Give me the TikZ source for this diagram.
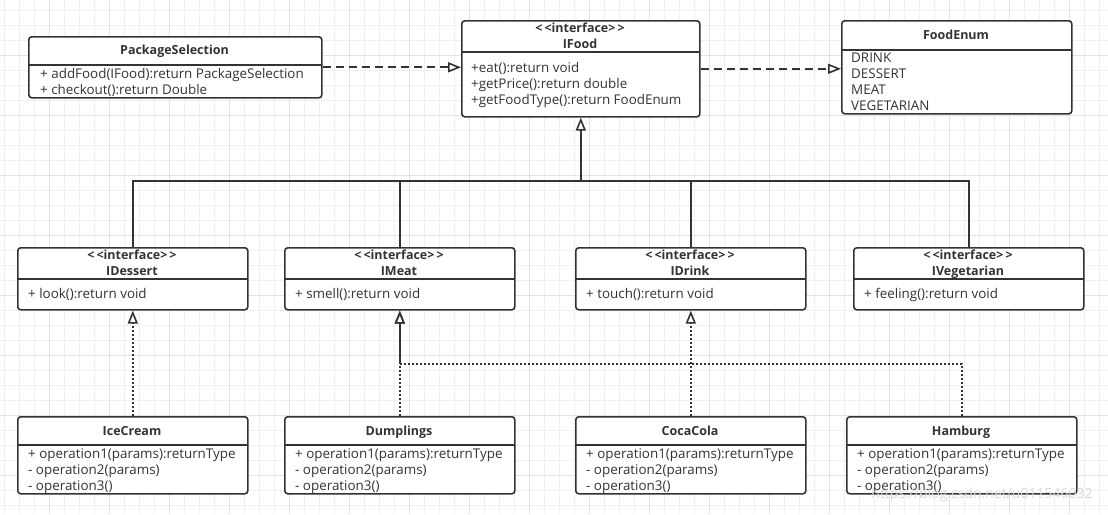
\documentclass[tikz,border=0pt]{standalone}
\usepackage{fontspec}
\setmainfont{Open Sans}
\usetikzlibrary{arrows.meta,positioning}
\definecolor{ink}{HTML}{333333}
\definecolor{gridminor}{HTML}{F0F0F0}
\definecolor{gridmajor}{HTML}{E2E2E2}
\tikzset{
	umlbox/.style={draw=ink, line width=1.6pt, rounded corners=3pt, fill=white, anchor=north west, inner sep=0pt},
	divider/.style={draw=ink, line width=1.6pt},
	classname/.style={font=\fontsize{12.5}{16}\selectfont\bfseries, text=ink, inner sep=0pt, anchor=base},
	member/.style={font=\fontsize{13.4}{16}\selectfont, text=ink, inner sep=0pt, anchor=base west},
	opentip/.style={-{Triangle[open,length=13pt,width=10pt,line width=1.6pt]}},
	depend/.style={draw=ink, line width=1.8pt, dash pattern=on 8pt off 5pt, opentip},
	realize/.style={draw=ink, line width=1.6pt, dash pattern=on 2pt off 2pt, opentip},
	inherit/.style={draw=ink, line width=1.6pt},
}
\newcommand{\stereo}{<\kern2pt<interface>\kern2pt>}
\begin{document}
\begin{tikzpicture}[x=1pt,y=-1pt]
		\useasboundingbox (0,0) rectangle (1108,514);
		% background grid
		\fill[white] (0,0) rectangle (1108,514);
		\foreach \gx in {4.3,19.3,...,1108} \draw[gridminor, line width=1pt] (\gx,0) -- (\gx,514);
		\foreach \gy in {10,25,...,514} \draw[gridminor, line width=1pt] (0,\gy) -- (1108,\gy);
		\foreach \gx in {49.3,109.3,...,1108} \draw[gridmajor, line width=1pt] (\gx,0) -- (\gx,514);
		\foreach \gy in {55,115,...,514} \draw[gridmajor, line width=1pt] (0,\gy) -- (1108,\gy);

		% top row
		\node[umlbox, minimum width=293, minimum height=61] (pkg) at (28,36) {};
		\draw[divider] (28,65) -- (321,65);
		\node[classname] (pkg-name) at (174.5,54.5) {PackageSelection};
		\node[member] (pkg-m1) at (40,78.5) {+ addFood(IFood):return PackageSelection};
		\node[member] (pkg-m2) at (40,94.5) {+ checkout():return Double};

		\node[umlbox, minimum width=238, minimum height=96] (ifood) at (461,20) {};
		\draw[divider] (461,52) -- (699,52);
		\node[classname] (ifood-st) at (580,32.5) {\stereo};
		\node[classname] (ifood-name) at (580,48.5) {IFood};
		\node[member] (ifood-m1) at (471,72.5) {+eat():return void};
		\node[member] (ifood-m2) at (471,88.5) {+getPrice():return double};
		\node[member] (ifood-m3) at (471,104.5) {+getFoodType():return FoodEnum};

		\node[umlbox, minimum width=230, minimum height=93] (foodenum) at (841,20) {};
		\draw[divider] (841,50) -- (1071,50);
		\node[classname] (foodenum-name) at (956,39.5) {FoodEnum};
		\foreach \item [count=\i] in {DRINK,DESSERT,MEAT,VEGETARIAN}
			\node[member] (foodenum-\i) at (851,{46.5+16*\i}) {\item};

		% interfaces
		\foreach \nm/\lx/\title/\meth in {idessert/17/IDessert/{+ look():return void},
				imeat/284/IMeat/{+ smell():return void},
				idrink/575/IDrink/{+ touch():return void},
				iveg/853/IVegetarian/{+ feeling():return void}}{
			\node[umlbox, minimum width=230, minimum height=62] (\nm) at (\lx,247) {};
			\draw[divider] (\lx,279) -- ({\lx+230},279);
			\node[classname] (\nm-st) at ({\lx+115},259.5) {\stereo};
			\node[classname] (\nm-name) at ({\lx+115},275.5) {\title};
			\node[member] (\nm-m1) at ({\lx+11},298.5) {\meth};
		}

		% classes
		\foreach \nm/\lx/\title in {icecream/17/IceCream, dumplings/284/Dumplings,
				cocacola/575/CocaCola, hamburg/846/Hamburg}{
			\node[umlbox, minimum width=230, minimum height=77] (\nm) at (\lx,416) {};
			\draw[divider] (\lx,445) -- ({\lx+230},445);
			\node[classname] (\nm-name) at ({\lx+115},435.5) {\title};
			\node[member] (\nm-m1) at ({\lx+11},458.5) {+ operation1(params):returnType};
			\node[member] (\nm-m2) at ({\lx+11},474.5) {- operation2(params)};
			\node[member] (\nm-m3) at ({\lx+11},490.5) {- operation3()};
		}

		% dependencies
		\draw[depend] (pkg.east) -- (pkg.east -| ifood.west);
		\draw[depend] (ifood.east) -- (ifood.east -| foodenum.west);

		% generalization tree
		\coordinate (fork) at (ifood.south |- 0,181);
		\draw[inherit] (idessert.north) |- (fork);
		\draw[inherit] (imeat.north) |- (fork);
		\draw[inherit] (idrink.north) |- (fork);
		\draw[inherit] (iveg.north) |- (fork);
		\draw[inherit, opentip] (fork) -- (ifood.south);

		% realizations
		\draw[realize] (icecream.north) -- (idessert.south);
		\draw[realize] (dumplings.north) -- (imeat.south);
		\draw[realize] (cocacola.north) -- (idrink.south);
		\draw[realize] (hamburg.north) |- (imeat.south |- 0,364) -- (imeat.south);

		\node[font=\fontsize{14}{16}\selectfont, text=black!15, inner sep=0pt] (mark) at (982,495) {https://blog.csdn.net/u011546032};
\end{tikzpicture}
\end{document}
